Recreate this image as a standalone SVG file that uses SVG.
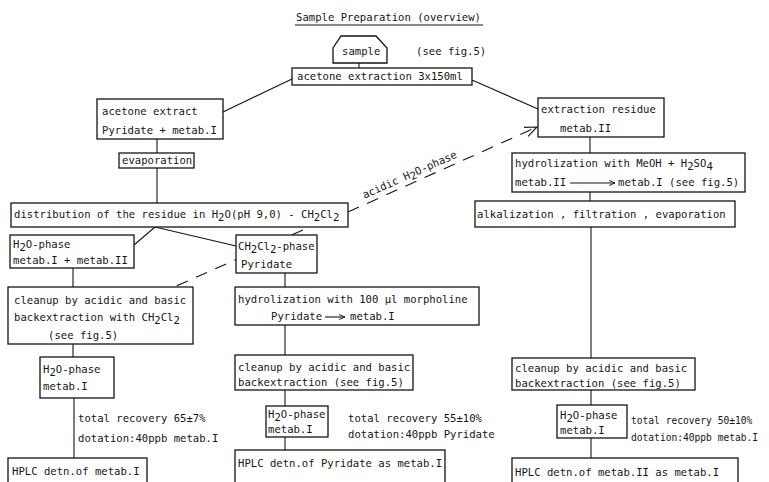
<svg xmlns="http://www.w3.org/2000/svg" width="769" height="482" viewBox="0 0 769 482">
<style>
.box{fill:#fff;stroke:#151515;stroke-width:1.3}
.t{font-family:"DejaVu Sans Mono","Liberation Mono",monospace;font-size:10.6px;fill:#151515}
.ts{font-size:9.6px}
.ln{stroke:#151515;stroke-width:1.1;fill:none}
.dash{stroke:#151515;stroke-width:1.1;fill:none;stroke-dasharray:12 9}
</style>
<defs>
<marker id="open" markerWidth="14" markerHeight="12" refX="13" refY="6" orient="auto" markerUnits="userSpaceOnUse">
<path d="M1,1 L13,6 L1,11" fill="none" stroke="#151515" stroke-width="1.1"/>
</marker>
<marker id="small" markerWidth="8" markerHeight="6" refX="7" refY="3" orient="auto" markerUnits="userSpaceOnUse">
<path d="M1,0.5 L7,3 L1,5.5" fill="none" stroke="#151515" stroke-width="0.9"/>
</marker>
</defs>
<rect width="769" height="482" fill="#fff"/>

<g id="title">
<text class="t" x="296" y="21">Sample Preparation (overview)</text>
<line class="ln" x1="295" y1="25" x2="483" y2="25"/>
</g>

<g id="connectors">
<line class="ln" x1="359" y1="63" x2="359" y2="68"/>
<line class="ln" x1="292" y1="79" x2="223" y2="112"/>
<line class="ln" x1="472" y1="80" x2="538" y2="109"/>
<line class="ln" x1="157" y1="139" x2="157" y2="153"/>
<line class="ln" x1="157" y1="168" x2="157" y2="203"/>
<line class="dash" x1="348" y1="212" x2="537" y2="127" marker-end="url(#open)"/>
<line class="ln" x1="155" y1="227" x2="134" y2="245"/>
<line class="ln" x1="155" y1="227" x2="236" y2="246"/>
<line class="dash" x1="303" y1="230" x2="172" y2="288"/>
<line class="ln" x1="73" y1="268" x2="73" y2="287"/>
<line class="ln" x1="73" y1="344" x2="73" y2="357"/>
<line class="ln" x1="74" y1="398" x2="74" y2="458"/>
<line class="ln" x1="285" y1="273" x2="285" y2="287"/>
<line class="ln" x1="285" y1="325" x2="285" y2="355"/>
<line class="ln" x1="285" y1="390" x2="285" y2="406"/>
<line class="ln" x1="285" y1="437" x2="285" y2="450"/>
<line class="ln" x1="590" y1="137" x2="590" y2="153"/>
<line class="ln" x1="590" y1="192" x2="590" y2="201"/>
<line class="ln" x1="591" y1="227" x2="591" y2="358"/>
<line class="ln" x1="591" y1="390" x2="591" y2="405"/>
<line class="ln" x1="591" y1="438" x2="591" y2="458"/>
<text class="t" transform="translate(411,178) rotate(-24)" text-anchor="middle">acidic H<tspan dy="2.5">2</tspan><tspan dy="-2.5">O-phase</tspan></text>
</g>

<g id="sample">
<path class="box" d="M333,48 L341,36 L376,36 L387,48 L387,63 L333,63 Z"/>
<text class="t" x="342" y="55">sample</text>
<text class="t" x="416" y="55">(see fig.5)</text>
</g>

<g id="acetone-extraction">
<rect class="box" x="292" y="68" width="180" height="17"/>
<text class="t" x="297" y="80">acetone extraction 3x150ml</text>
</g>

<g id="acetone-extract">
<rect class="box" x="97" y="99" width="126" height="40"/>
<text class="t" x="102" y="115">acetone extract</text>
<text class="t" x="102" y="134">Pyridate + metab.I</text>
</g>

<g id="evaporation">
<rect class="box" x="119" y="153" width="75" height="15"/>
<text class="t" x="122" y="164">evaporation</text>
</g>

<g id="distribution">
<rect class="box" x="11" y="203" width="337" height="24"/>
<text class="t" x="14" y="218">distribution of the residue in H<tspan dy="2.5">2</tspan><tspan dy="-2.5">O(pH 9,0) - CH</tspan><tspan dy="2.5">2</tspan><tspan dy="-2.5">Cl</tspan><tspan dy="2.5">2</tspan></text>
</g>

<g id="extraction-residue">
<rect class="box" x="538" y="98" width="126" height="39"/>
<text class="t" x="541" y="113">extraction residue</text>
<text class="t" x="560" y="132">metab.II</text>
</g>

<g id="hydrolization-meoh">
<rect class="box" x="512" y="153" width="233" height="39"/>
<text class="t" x="515" y="167">hydrolization with MeOH + H<tspan dy="2.5">2</tspan><tspan dy="-2.5">SO</tspan><tspan dy="2.5">4</tspan></text>
<text class="t" x="515" y="186">metab.II</text>
<line class="ln" x1="570" y1="183" x2="615" y2="183" stroke-width="0.9" marker-end="url(#small)"/>
<text class="t" x="618" y="186">metab.I (see fig.5)</text>
</g>

<g id="alkalization">
<rect class="box" x="475" y="201" width="260" height="26"/>
<text class="t" x="477" y="218">alkalization , filtration , evaporation</text>
</g>

<g id="h2o-phase-1">
<rect class="box" x="10" y="235" width="124" height="33"/>
<text class="t" x="13" y="248">H<tspan dy="2.5">2</tspan><tspan dy="-2.5">O-phase</tspan></text>
<text class="t" x="13" y="264">metab.I + metab.II</text>
</g>

<g id="ch2cl2-phase">
<rect class="box" x="236" y="235" width="81" height="38"/>
<text class="t" x="238" y="250">CH<tspan dy="2.5">2</tspan><tspan dy="-2.5">Cl</tspan><tspan dy="2.5">2</tspan><tspan dy="-2.5">-phase</tspan></text>
<text class="t" x="241" y="268">Pyridate</text>
</g>

<g id="cleanup-left">
<rect class="box" x="8" y="287" width="185" height="57"/>
<text class="t" x="14" y="304">cleanup by acidic and basic</text>
<text class="t" x="14" y="321">backextraction with CH<tspan dy="2.5">2</tspan><tspan dy="-2.5">Cl</tspan><tspan dy="2.5">2</tspan></text>
<text class="t" x="48" y="339">(see fig.5)</text>
</g>

<g id="h2o-phase-left">
<rect class="box" x="40" y="357" width="74" height="41"/>
<text class="t" x="43" y="373">H<tspan dy="2.5">2</tspan><tspan dy="-2.5">O-phase</tspan></text>
<text class="t" x="43" y="390">metab.I</text>
</g>
<g id="recovery-left">
<text class="t" x="78" y="422">total recovery 65±7%</text>
<text class="t" x="78" y="442">dotation:40ppb metab.I</text>
</g>
<g id="hplc-left">
<rect class="box" x="8" y="458" width="139" height="40"/>
<text class="t" x="12" y="475">HPLC detn.of metab.I</text>
</g>

<g id="hydrolization-morpholine">
<rect class="box" x="235" y="287" width="244" height="38"/>
<text class="t" x="238" y="303">hydrolization with 100 μl morpholine</text>
<text class="t" x="271" y="320">Pyridate</text>
<line class="ln" x1="325" y1="317" x2="345" y2="317" stroke-width="0.9" marker-end="url(#small)"/>
<text class="t" x="350" y="320">metab.I</text>
</g>

<g id="cleanup-mid">
<rect class="box" x="235" y="355" width="178" height="35"/>
<text class="t" x="238" y="371">cleanup by acidic and basic</text>
<text class="t" x="238" y="386">backextraction (see fig.5)</text>
</g>
<g id="h2o-phase-mid">
<rect class="box" x="266" y="406" width="62" height="31"/>
<text class="t" x="268" y="418">H<tspan dy="2.5">2</tspan><tspan dy="-2.5">O-phase</tspan></text>
<text class="t" x="268" y="433">metab.I</text>
</g>
<g id="recovery-mid">
<text class="t" x="348" y="422">total recovery 55±10%</text>
<text class="t" x="348" y="438">dotation:40ppb Pyridate</text>
</g>
<g id="hplc-mid">
<rect class="box" x="235" y="450" width="210" height="40"/>
<text class="t" x="238" y="467">HPLC detn.of Pyridate as metab.I</text>
</g>

<g id="cleanup-right">
<rect class="box" x="512" y="358" width="183" height="32"/>
<text class="t" x="515" y="372">cleanup by acidic and basic</text>
<text class="t" x="515" y="387">backextraction (see fig.5)</text>
</g>
<g id="h2o-phase-right">
<rect class="box" x="557" y="405" width="70" height="33"/>
<text class="t" x="560" y="419">H<tspan dy="2.5">2</tspan><tspan dy="-2.5">O-phase</tspan></text>
<text class="t" x="560" y="434">metab.I</text>
</g>
<g id="recovery-right">
<text class="t ts" x="631" y="424">total recovery 50±10%</text>
<text class="t ts" x="631" y="441">dotation:40ppb metab.I</text>
</g>
<g id="hplc-right">
<rect class="box" x="512" y="458" width="226" height="40"/>
<text class="t" x="515" y="476">HPLC detn.of metab.II as metab.I</text>
</g>
</svg>
